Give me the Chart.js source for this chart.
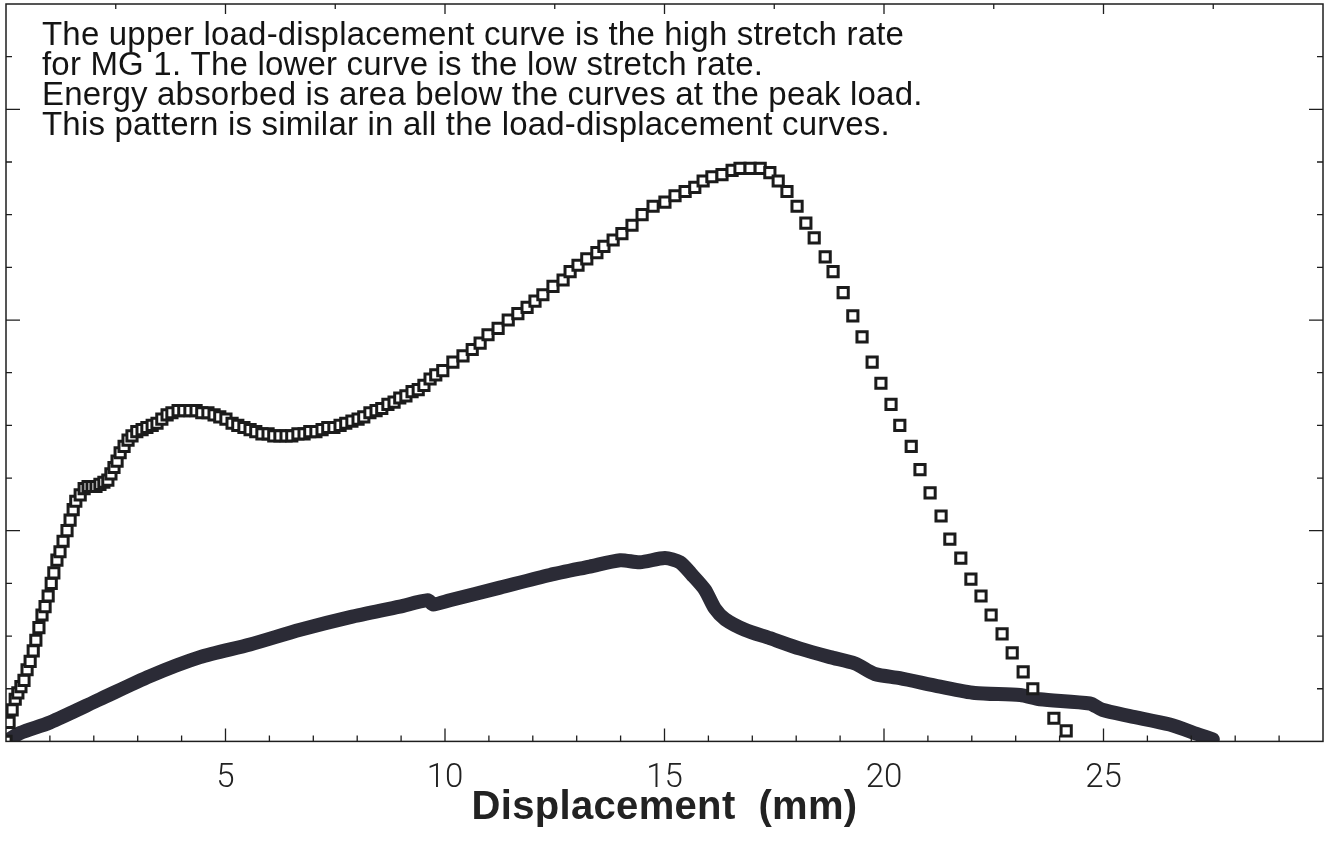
<!DOCTYPE html>
<html>
<head>
<meta charset="utf-8">
<script src="https://cdn.jsdelivr.net/npm/chart.js@4.4.1/dist/chart.umd.min.js"></script>
<style>
  html, body { margin: 0; padding: 0; background: #fff; }
  #wrap { width: 1330px; height: 854px; }
</style>
</head>
<body>
<div id="wrap"><canvas id="chart" width="1330" height="854"></canvas></div>
<script>
// load-displacement curves, values
// x: displacement (mm), y: load (axis has no printed values, 0..3.5 with ticks every 0.25)

const noteLines = [
  'The upper load-displacement curve is the high stretch rate',
  'for MG 1. The lower curve is the low stretch rate.',
  'Energy absorbed is area below the curves at the peak load.',
  'This pattern is similar in all the load-displacement curves.'
];
const xTitle = 'Displacement  (mm)';
const xTickValues = [5, 10, 15, 20, 25];
const xTickLabels = ['5', '10', '15', '20', '25'];

// high stretch rate (squares)
const highX = [0, 0.07, 0.14, 0.21, 0.27, 0.34, 0.41, 0.48, 0.55, 0.62, 0.68, 0.75, 0.82, 0.89, 0.96,
  1.03, 1.09, 1.16, 1.23, 1.30, 1.39, 1.46, 1.53, 1.59, 1.69, 1.78, 1.87, 1.96, 2.05, 2.14, 2.23,
  2.32, 2.39, 2.46, 2.53, 2.60, 2.69, 2.78, 2.87, 2.98, 3.10, 3.21, 3.33, 3.44, 3.55, 3.67, 3.78,
  3.92, 4.05, 4.19, 4.33, 4.46, 4.60, 4.74, 4.87, 5.01, 5.15, 5.28, 5.42, 5.56, 5.69, 5.83, 5.97,
  6.10, 6.24, 6.38, 6.51, 6.65, 6.79, 6.92, 7.06, 7.20, 7.33, 7.47, 7.61, 7.74, 7.88, 8.02, 8.15,
  8.29, 8.43, 8.56, 8.70, 8.84, 8.97, 9.11, 9.25, 9.39, 9.52, 9.66, 9.79, 9.95, 10.18, 10.41, 10.62,
  10.80, 10.98, 11.21, 11.44, 11.66, 11.87, 12.05, 12.23, 12.46, 12.69, 12.85, 13.03, 13.23, 13.46,
  13.62, 13.83, 14.03, 14.26, 14.49, 14.74, 15.01, 15.24, 15.47, 15.69, 15.88, 16.08, 16.31, 16.54,
  16.72, 16.95, 17.18, 17.40, 17.59, 17.79, 18.02, 18.22, 18.41, 18.66, 18.84, 19.07, 19.29, 19.50,
  19.73, 19.93, 20.16, 20.36, 20.62, 20.82, 21.05, 21.30, 21.50, 21.75, 21.98, 22.21, 22.44, 22.69,
  22.92, 23.17, 23.39, 23.87, 24.15];
const highY = [0, 0.09, 0.15, 0.20, 0.23, 0.26, 0.29, 0.34, 0.38, 0.43, 0.48, 0.54, 0.60, 0.64, 0.69,
  0.75, 0.80, 0.86, 0.90, 0.95, 1.00, 1.05, 1.10, 1.14, 1.17, 1.20, 1.21, 1.21, 1.21, 1.22, 1.23,
  1.24, 1.27, 1.30, 1.33, 1.37, 1.40, 1.43, 1.45, 1.47, 1.48, 1.49, 1.50, 1.51, 1.53, 1.55, 1.56,
  1.57, 1.57, 1.57, 1.57, 1.56, 1.56, 1.55, 1.54, 1.53, 1.51, 1.50, 1.49, 1.48, 1.47, 1.46, 1.46,
  1.45, 1.45, 1.45, 1.45, 1.46, 1.46, 1.47, 1.47, 1.48, 1.49, 1.49, 1.50, 1.51, 1.52, 1.53, 1.54,
  1.56, 1.57, 1.58, 1.60, 1.61, 1.63, 1.64, 1.66, 1.67, 1.69, 1.72, 1.74, 1.76, 1.80, 1.83, 1.86,
  1.89, 1.93, 1.96, 2.00, 2.03, 2.06, 2.09, 2.12, 2.16, 2.19, 2.23, 2.26, 2.29, 2.32,
  2.35, 2.38, 2.41, 2.45, 2.50, 2.54, 2.56, 2.59, 2.61, 2.63, 2.66, 2.68, 2.69, 2.71,
  2.72, 2.72, 2.72, 2.70, 2.66, 2.61, 2.54, 2.46, 2.39, 2.30, 2.23, 2.13, 2.02, 1.92,
  1.80, 1.70, 1.60, 1.50, 1.40, 1.29, 1.18, 1.07, 0.96, 0.87, 0.77, 0.69, 0.60, 0.51,
  0.42, 0.33, 0.25, 0.11, 0.05];

// low stretch rate (thick line)
const lowX = [0, 0.32, 1.00, 2.14, 3.28, 4.42, 5.56, 6.70, 7.84, 8.97, 9.61, 9.73, 10.11, 11.25,
  12.39, 13.30, 13.99, 14.44, 15.01, 15.35, 15.63, 15.92, 16.15, 16.38, 16.83, 17.40, 18.09, 18.77,
  19.34, 19.79, 20.36, 21.28, 22.07, 23.10, 23.55, 24.69, 24.97, 25.60, 26.51, 27.20, 27.49];
const lowY = [0, 0.04, 0.09, 0.20, 0.31, 0.40, 0.46, 0.53, 0.59, 0.64, 0.67, 0.65, 0.67, 0.73,
  0.79, 0.83, 0.86, 0.85, 0.87, 0.85, 0.79, 0.72, 0.63, 0.58, 0.53, 0.49, 0.44, 0.40,
  0.37, 0.32, 0.30, 0.26, 0.23, 0.22, 0.20, 0.18, 0.15, 0.12, 0.08, 0.03, 0.01];

const xMin = 0, xMax = 30, yMin = 0, yMax = 3.5;

function pts(xs, ys){
  return xs.map((x, i) => ({x: x, y: ys[i]}));
}

// spread a string so it fills a given width
function spaceTo(ctx, text, width){
  if(!('letterSpacing' in ctx)) return;
  ctx.letterSpacing = '0px';
  const w = ctx.measureText(text).width;
  ctx.letterSpacing = ((width - w) / text.length).toFixed(2) + 'px';
}

// frame, inward ticks and the text block
const decorPlugin = {
  id: 'decor',
  afterDatasetsDraw(chart){
    const {ctx, chartArea: a, scales} = chart;
    const xs = scales.x, ys = scales.y;
    ctx.save();
    ctx.strokeStyle = '#1e1e1e';
    ctx.lineWidth = 1.5;
    ctx.strokeRect(a.left, a.top, a.right - a.left, a.bottom - a.top);

    ctx.lineWidth = 1.3;
    ctx.beginPath();
    // bottom: every 1 mm, longer at every 5
    for(let v = xMin + 1; v < xMax; v++){
      const px = xs.getPixelForValue(v);
      const len = v % 5 === 0 ? 13 : 6;
      ctx.moveTo(px, a.bottom); ctx.lineTo(px, a.bottom - len);
    }
    // top: every 2.5
    for(let v = 2.5; v < xMax; v += 2.5){
      const px = xs.getPixelForValue(v);
      const len = v % 5 === 0 ? 10 : 5;
      ctx.moveTo(px, a.top); ctx.lineTo(px, a.top + len);
    }
    // left and right: every 0.25, longer at every 1
    for(let v = 0.25; v < yMax; v += 0.25){
      const py = ys.getPixelForValue(v);
      const len = Math.abs(v - Math.round(v)) < 1e-6 ? 14 : 6;
      ctx.moveTo(a.left, py); ctx.lineTo(a.left + len, py);
      ctx.moveTo(a.right, py); ctx.lineTo(a.right - len, py);
    }
    ctx.stroke();

    // note text
    ctx.fillStyle = '#141414';
    ctx.textBaseline = 'alphabetic';
    ctx.font = '33px "Liberation Sans", Arial, sans-serif';
    spaceTo(ctx, noteLines[0], 862);
    noteLines.forEach((t, i) => ctx.fillText(t, a.left + 36, a.top + 41 + i * 30));

    // axis title, centred under the plot
    ctx.font = 'bold 40px "Liberation Sans", Arial, sans-serif';
    spaceTo(ctx, xTitle, 386);
    ctx.textAlign = 'center';
    ctx.fillStyle = '#222';
    ctx.fillText(xTitle, (a.left + a.right) / 2, 819);
    ctx.restore();
  }
};

new Chart(document.getElementById('chart'), {
  type: 'scatter',
  data: {
    datasets: [
      {
        label: 'high stretch rate',
        data: pts(highX, highY),
        showLine: false,
        pointStyle: 'rect',
        pointRadius: 7.2,
        pointBorderWidth: 3,
        borderColor: '#1b1b1b',
        backgroundColor: '#ffffff',
        order: 0
      },
      {
        label: 'low stretch rate',
        data: pts(lowX, lowY),
        showLine: true,
        pointRadius: 0,
        borderWidth: 14,
        borderColor: '#2b2b36',
        borderCapStyle: 'round',
        borderJoinStyle: 'round',
        tension: 0.25,
        order: 1
      }
    ]
  },
  options: {
    responsive: false,
    devicePixelRatio: 1,
    animation: false,
    events: [],
    layout: { autoPadding: false, padding: { left: 6, right: 7, top: 4, bottom: 37 } },
    plugins: { legend: { display: false }, tooltip: { enabled: false } },
    scales: {
      x: {
        type: 'linear', min: xMin, max: xMax,
        grid: { display: false, drawTicks: false },
        border: { display: false },
        afterBuildTicks(scale){ scale.ticks = xTickValues.map(v => ({value: v})); },
        ticks: {
          padding: 18,
          color: '#222',
          font: { family: 'Roboto, "Liberation Sans", sans-serif', size: 33, weight: '300' },
          callback(v){ const i = xTickValues.indexOf(v); return i < 0 ? '' : xTickLabels[i]; }
        }
      },
      y: {
        type: 'linear', min: yMin, max: yMax, display: false
      }
    }
  },
  plugins: [decorPlugin]
});
</script>
</body>
</html>
